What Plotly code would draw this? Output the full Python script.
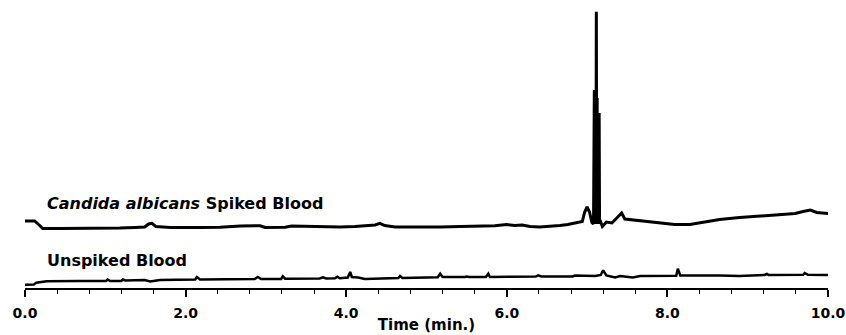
import plotly.graph_objects as go

# ---- data (time in min, detector response in arbitrary units) ----
spiked_time = [0.00, 0.12, 0.19, 0.22, 0.44, 0.68, 0.93, 1.18, 1.37, 1.49, 1.54, 1.58, 1.63, 1.81,
               2.18, 2.43, 2.68, 2.93, 2.99, 3.24, 3.32, 3.49, 3.67, 3.92, 4.11, 4.36, 4.42, 4.48,
               4.61, 4.92, 5.17, 5.42, 5.67, 5.85, 6.00, 6.10, 6.19, 6.29, 6.41, 6.54, 6.66, 6.76,
               6.82, 6.89, 6.94, 6.97, 7.00, 7.03, 7.06, 7.08,
               7.09, 7.10, 7.105, 7.11, 7.115, 7.12, 7.125, 7.13, 7.14, 7.145, 7.15, 7.155, 7.16,
               7.19, 7.24, 7.31, 7.37, 7.43, 7.47, 7.60, 7.76, 7.91, 8.09, 8.28,
               8.47, 8.65, 8.90, 9.15, 9.40, 9.59, 9.69, 9.78, 9.86, 9.93, 10.00]
spiked_signal = [67, 67, 62, 59.5, 59.5, 59.5, 60, 60, 60.5, 61, 64, 64.7, 61.5, 60.5,
                 60.5, 60.7, 62, 62.2, 60.5, 60.7, 62, 61.7, 61, 61, 61.5, 63, 64.7, 62.5,
                 61, 60.7, 61, 61.5, 62, 62.3, 63.5, 62.5, 63, 61.5, 61, 61.5, 62.5, 63.5,
                 64.5, 65.5, 66.5, 76, 81, 76, 65.5, 64,
                 198, 66, 198, 64, 276.3, 64, 190, 64, 175, 64, 175, 64, 68,
                 61.5, 66, 65, 70, 75, 69, 68, 66.5, 65, 63.5, 63.5,
                 66, 68.5, 70.5, 72, 73.5, 74.5, 76.5, 78, 75.5, 75, 74.5]

unspiked_time = [0.00, 0.11, 0.14, 0.27, 0.68, 1.01, 1.03, 1.06, 1.20, 1.22, 1.25, 1.49, 1.56, 1.68,
                 2.12, 2.14, 2.18, 2.86, 2.90, 2.94, 3.19, 3.21, 3.24, 3.67, 3.71, 3.75, 3.86, 3.89,
                 3.92, 4.02, 4.05, 4.07, 4.15, 4.23, 4.65, 4.67, 4.70, 5.14, 5.17, 5.20, 5.48, 5.50,
                 5.53, 5.74, 5.77, 5.79, 6.36, 6.39, 6.43, 6.82, 6.85, 7.10, 7.17, 7.20, 7.24, 7.35,
                 7.41, 7.57, 7.66, 8.11, 8.13, 8.16, 8.65, 8.90, 9.21, 9.24, 9.26, 9.69, 9.71, 9.75,
                 10.00]
unspiked_signal = [3.3, 3.5, 5.3, 6.7, 7, 7, 8.5, 7, 7, 8.5, 7.5, 8, 6.5, 8,
                   8.5, 11, 8.5, 9, 11, 9, 9, 11.7, 9.3, 9.5, 10.7, 9.5, 9.7, 11.3,
                   9.7, 10.5, 16, 11, 10.5, 9, 10, 12, 10, 10.7, 14.3, 11, 11, 11.5,
                   11, 11, 14.3, 11, 11.5, 12.7, 11.5, 11.5, 12.5, 12, 13, 17.7, 12.5, 10.5,
                   12, 10.5, 12, 12.2, 19.3, 12.5, 12.5, 12, 13, 14, 13, 13.2, 15, 13.2,
                   13]

trace_labels = ["<i>Candida albicans</i> Spiked Blood", "Unspiked Blood"]
x_title = "Time (min.)"

fig = go.Figure()
fig.add_trace(go.Scatter(x=spiked_time, y=spiked_signal, mode="lines",
                         line=dict(color="black", width=3), hoverinfo="skip"))
fig.add_trace(go.Scatter(x=unspiked_time, y=unspiked_signal, mode="lines",
                         line=dict(color="black", width=2.5), hoverinfo="skip"))

label_font = dict(family="DejaVu Sans", size=16, color="black", weight="bold")
fig.add_annotation(x=0.25, y=85, xref="x", yref="y", text="<b>" + trace_labels[0] + "</b>",
                   showarrow=False, xanchor="left", yanchor="middle", font=label_font)
fig.add_annotation(x=0.25, y=28, xref="x", yref="y", text="<b>" + trace_labels[1] + "</b>",
                   showarrow=False, xanchor="left", yanchor="middle", font=label_font)

fig.update_layout(
    width=846, height=335,
    margin=dict(l=25, r=18, t=5, b=47),
    paper_bgcolor="white", plot_bgcolor="white",
    showlegend=False,
    xaxis=dict(
        range=[0, 10], showgrid=False, zeroline=False,
        showline=True, linecolor="black", linewidth=1.5,
        ticks="outside", tickcolor="black", ticklen=7, tickwidth=1.5,
        tick0=0, dtick=2, tickformat=".1f", ticklabelstandoff=4,
        tickfont=dict(family="DejaVu Sans", size=14, color="black", weight="bold"),
        minor=dict(ticks="outside", ticklen=4, tickwidth=1.2, tickcolor="black", dtick=0.4, tick0=0),
        title=dict(text="<b>" + x_title + "</b>", standoff=0,
                   font=dict(family="DejaVu Sans", size=15, color="black")),
        automargin=False, fixedrange=True,
    ),
    yaxis=dict(range=[0, 283], visible=False, fixedrange=True, automargin=False),
)

fig.write_html("out.html")
